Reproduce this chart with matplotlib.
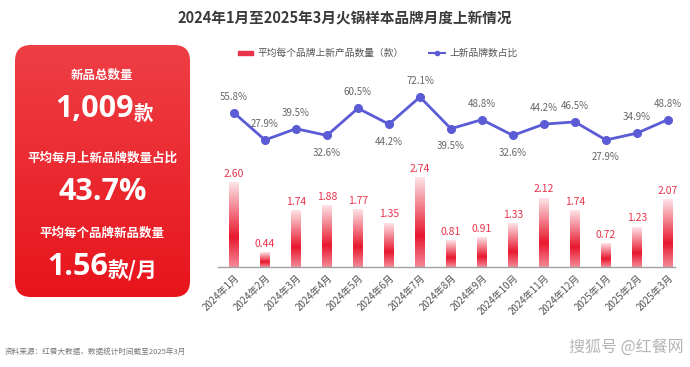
import numpy as np
import matplotlib.pyplot as plt
from matplotlib.colors import LinearSegmentedColormap
from matplotlib.patches import FancyBboxPatch, Rectangle

plt.rcParams['font.family'] = ['Noto Sans CJK SC', 'DejaVu Sans']

months = ['2024年1月', '2024年2月', '2024年3月', '2024年4月', '2024年5月', '2024年6月',
          '2024年7月', '2024年8月', '2024年9月', '2024年10月', '2024年11月', '2024年12月',
          '2025年1月', '2025年2月', '2025年3月']
avg_new = [2.60, 0.44, 1.74, 1.88, 1.77, 1.35, 2.74, 0.81, 0.91, 1.33, 2.12, 1.74, 0.72, 1.23, 2.07]
brand_share = [55.8, 27.9, 39.5, 32.6, 60.5, 44.2, 72.1, 39.5, 48.8, 32.6, 44.2, 46.5, 27.9, 34.9, 48.8]
share_above = [True, True, True, False, True, False, True, False, True, False, True, True, False, True, True]

W, H = 690, 367
fig = plt.figure(figsize=(W / 100, H / 100), dpi=100)
fig.patch.set_facecolor('white')


def px(x, y):
    return x / W, 1 - y / H


# title
fig.text(*px(345, 18), '2024年1月至2025年3月火锅样本品牌月度上新情况', ha='center', va='center',
         fontsize=10.5, fontweight='bold', color='#3a3a3a')

# left red card
card = fig.add_axes([0, 0, 1, 1], zorder=0)
card.set_xlim(0, W)
card.set_ylim(H, 0)
card.axis('off')
grad = np.linspace(0, 1, 256).reshape(-1, 1)
card_cmap = LinearSegmentedColormap.from_list('card', ['#ee3f45', '#e8141c'])
im = card.imshow(grad, cmap=card_cmap, extent=[15, 190, 297, 45], aspect='auto', zorder=1)
box = FancyBboxPatch((15, 45), 175, 252, boxstyle='round,pad=0,rounding_size=16',
                     facecolor='none', edgecolor='none', transform=card.transData)
card.add_patch(box)
im.set_clip_path(box)

num_font = ['Open Sans', 'Noto Sans CJK SC']
card.text(102, 75, '新品总数量', ha='center', va='center', color='white', fontsize=9, fontweight='bold')
card.text(134, 109, '1,009', ha='right', va='center', color='white', fontsize=22, fontweight='bold', family=num_font)
card.text(134, 114, '款', ha='left', va='center', color='white', fontsize=14, fontweight='bold')
card.text(102, 158, '平均每月上新品牌数量占比', ha='center', va='center', color='white', fontsize=9, fontweight='bold')
card.text(103, 192, '43.7%', ha='center', va='center', color='white', fontsize=22, fontweight='bold', family=num_font)
card.text(102, 233, '平均每个品牌新品数量', ha='center', va='center', color='white', fontsize=9, fontweight='bold')
card.text(108, 267, '1.56', ha='right', va='center', color='white', fontsize=22, fontweight='bold', family=num_font)
card.text(108, 271, '款/月', ha='left', va='center', color='white', fontsize=15, fontweight='bold')

# bar axes
ax = fig.add_axes([218 / W, 100 / H, 457 / W, 207 / H], zorder=2)
ax.patch.set_alpha(0)
x = np.arange(len(months))
for s in ['top', 'right', 'left']:
    ax.spines[s].set_visible(False)
ax.spines['bottom'].set_color('#a0a0a0')
ax.spines['bottom'].set_linewidth(1)
ax.set_yticks([])
ax.set_xticks(x)
ax.set_xticklabels(months, rotation=45, ha='right', rotation_mode='anchor', fontsize=7, color='#555555')
ax.tick_params(axis='x', length=0, pad=4)

bar_cmap = LinearSegmentedColormap.from_list('bar', [(0, '#f48a98'), (0.35, '#e8182e'), (1, '#fde4e8')])
bw = 0.32
bars = ax.bar(x, avg_new, width=bw, color='none')
vgrad = np.linspace(0, 1, 256).reshape(-1, 1)
for b, v in zip(bars, avg_new):
    ax.imshow(vgrad, cmap=bar_cmap, origin='lower', aspect='auto',
              extent=[b.get_x(), b.get_x() + bw, 0, v], zorder=2)
    ax.text(b.get_x() + bw / 2, v + 0.12, f'{v:.2f}', ha='center', va='bottom', fontsize=7.5, color='#e8334a')
ax.set_xlim(-0.516, 14.23)
ax.set_ylim(0, 6.37)

# line axes
ax2 = ax.twinx()
ax2.set_ylim(-102.6, 110.1)
ax2.axis('off')
ax2.plot(x, brand_share, color='#5b5bd6', lw=2, marker='o', ms=5.5, zorder=3)
for xi, v, up in zip(x, brand_share, share_above):
    off = 8 if up else -9
    ax2.annotate(f'{v}%', (xi, v), xytext=(0, off), textcoords='offset points',
                 ha='center', va='bottom' if up else 'top', fontsize=7, color='#666666')

# legend
leg = fig.add_axes([0, 0, 1, 1], zorder=3)
leg.set_xlim(0, W)
leg.set_ylim(H, 0)
leg.axis('off')
leg.add_patch(Rectangle((238, 51), 15, 4, color='#e8334a'))
leg.text(258, 53, '平均每个品牌上新产品数量（款）', va='center', fontsize=7, color='#555555')
leg.plot([428, 446], [53, 53], color='#5b5bd6', lw=1.5, ls='--')
leg.plot([437], [53], 'o', color='#5b5bd6', ms=3)
leg.text(450, 53, '上新品牌数占比', va='center', fontsize=7, color='#555555')

# footer
fig.text(*px(5, 353), '资料来源：红餐大数据，数据统计时间截至2025年3月', ha='left', va='center',
         fontsize=5.5, color='#777777')
fig.text(*px(684, 347), '搜狐号 @红餐网', ha='right', va='center', fontsize=11.5, color='#b5b5b5')

fig.savefig('out.png', dpi=100)
